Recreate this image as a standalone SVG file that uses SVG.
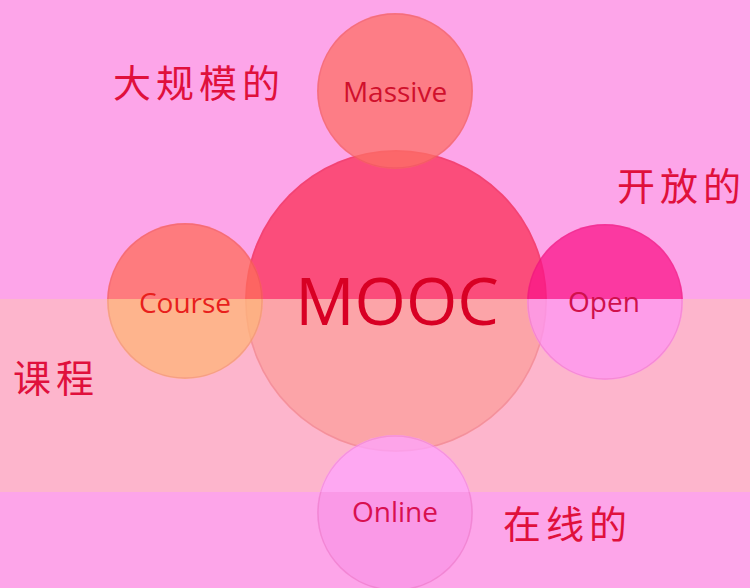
<svg xmlns="http://www.w3.org/2000/svg" width="750" height="588" viewBox="0 0 750 588">
<style>
.lbl{font-family:"Open Sans","Noto Sans",sans-serif;text-anchor:middle}
.sat{font-size:28px;font-weight:500}
.cn{font-family:"Noto Sans CJK SC",sans-serif;fill:#e0103c;font-size:38px;letter-spacing:5px}
.edge{fill:none;stroke:#c0004a;stroke-opacity:0.12;stroke-width:1.5}
</style>
<defs>
<clipPath id="cTop"><rect x="0" y="0" width="750" height="299"/></clipPath>
<clipPath id="cBand"><rect x="0" y="299" width="750" height="193"/></clipPath>
<clipPath id="cBelow"><rect x="0" y="492" width="750" height="96"/></clipPath>
</defs>
<rect x="0" y="0" width="750" height="588" fill="#fda5e9"/>
<rect x="0" y="299" width="750" height="193" fill="#fdb5cc"/>
<g id="mooc">
<circle cx="396" cy="301" r="151" fill="#fb4d7b" clip-path="url(#cTop)"/>
<circle cx="396" cy="301" r="151" fill="#fca4a8" clip-path="url(#cBand)"/>
<circle class="edge" cx="396" cy="301" r="150"/>
<text class="lbl" x="397" y="325" font-size="66" fill="#d80024">MOOC</text>
</g>
<g id="massive">
<circle cx="395" cy="91" r="78" fill="#fc7064" fill-opacity="0.75"/>
<circle class="edge" cx="395" cy="91" r="77"/>
<text class="lbl sat" x="395" y="102" fill="#d0102c">Massive</text>
</g>
<g id="course">
<circle cx="185" cy="301" r="78" fill="#fd6d59" fill-opacity="0.75" clip-path="url(#cTop)"/>
<circle cx="185" cy="301" r="78" fill="#feb478" fill-opacity="0.75" clip-path="url(#cBand)"/>
<circle class="edge" cx="185" cy="301" r="77"/>
<text class="lbl sat" x="185" y="313" fill="#e8201c">Course</text>
</g>
<g id="open">
<circle cx="605" cy="302" r="78" fill="#f91688" fill-opacity="0.75" clip-path="url(#cTop)"/>
<circle cx="605" cy="302" r="78" fill="#fd96f3" fill-opacity="0.75" clip-path="url(#cBand)"/>
<circle class="edge" cx="605" cy="302" r="77"/>
<text class="lbl sat" x="604" y="312" fill="#d0104c">Open</text>
</g>
<g id="online">
<circle cx="395" cy="513" r="78" fill="#fda4ff" fill-opacity="0.75" clip-path="url(#cBand)"/>
<circle cx="395" cy="513" r="78" fill="#f896e5" fill-opacity="0.75" clip-path="url(#cBelow)"/>
<circle class="edge" cx="395" cy="513" r="77"/>
<text class="lbl sat" x="395" y="522" fill="#d81050">Online</text>
</g>
<g id="labels">
<text class="cn" x="113" y="97" font-size="40">大规模的</text>
<text class="cn" x="617" y="200">开放的</text>
<text class="cn" x="13" y="392">课程</text>
<text class="cn" x="503" y="538">在线的</text>
</g>
<g id="connectors"></g>
</svg>
